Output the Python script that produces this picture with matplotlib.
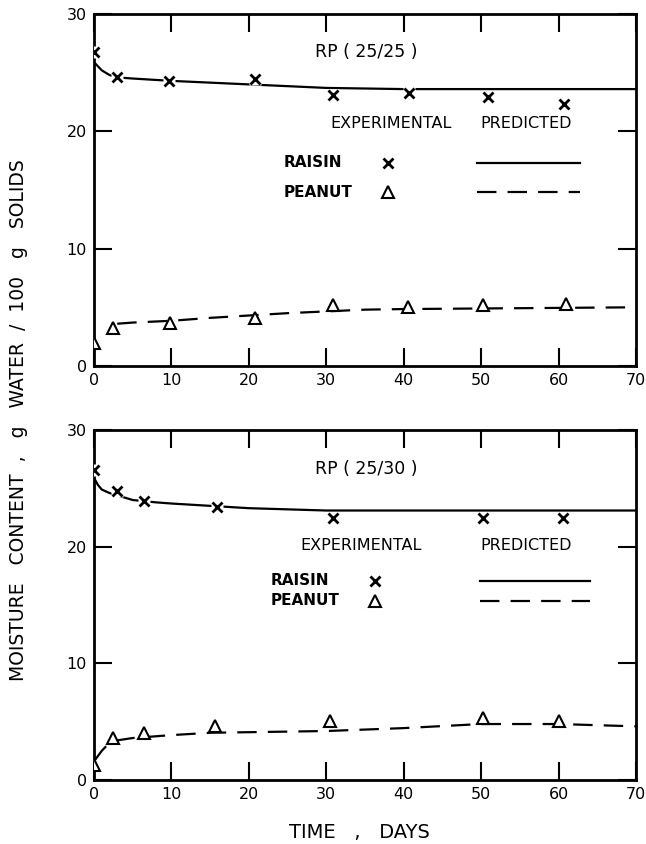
import matplotlib
matplotlib.use("Agg")
import matplotlib.pyplot as plt

plt.rcParams['font.family'] = ['DejaVu Sans']
plt.rcParams['lines.scale_dashes'] = False

# ---- RP (25/25) ----
exp_days_a = [0, 3.0, 9.7, 20.8, 30.9, 40.7, 50.9, 60.7]
raisin_a = [26.8, 24.6, 24.3, 24.5, 23.1, 23.3, 22.9, 22.3]
pea_days_a = [0, 2.5, 9.8, 20.8, 30.9, 40.6, 50.3, 61.0]
peanut_a = [1.95, 3.2, 3.7, 4.1, 5.2, 5.0, 5.2, 5.3]

pred_r_days_a = [0, 1, 2, 3, 5, 10, 20, 30, 40, 50, 60, 70]
pred_raisin_a = [25.9, 25.2, 24.8, 24.6, 24.5, 24.3, 24.0, 23.7, 23.6, 23.6, 23.6, 23.6]
pred_p_days_a = [3, 5, 10, 15, 20, 25, 30, 35, 40, 50, 60, 70]
pred_peanut_a = [3.6, 3.7, 3.85, 4.1, 4.3, 4.5, 4.65, 4.8, 4.85, 4.9, 4.95, 5.0]

# ---- RP (25/30) ----
exp_days_b = [0, 3.0, 6.5, 15.9, 30.9, 50.3, 60.6]
raisin_b = [26.6, 24.8, 23.9, 23.4, 22.5, 22.5, 22.5]
pea_days_b = [0, 2.5, 6.5, 15.6, 30.5, 50.3, 60.1]
peanut_b = [1.3, 3.6, 4.0, 4.6, 5.1, 5.3, 5.1]

pred_r_days_b = [0, 0.5, 1, 2, 3, 5, 8, 10, 15, 20, 30, 40, 50, 60, 70]
pred_raisin_b = [25.9, 25.3, 24.9, 24.6, 24.4, 24.0, 23.8, 23.7, 23.5, 23.3, 23.1, 23.1, 23.1, 23.1, 23.1]
pred_p_days_b = [0, 1, 2, 3, 5, 10, 15, 20, 30, 40, 50, 60, 70]
pred_peanut_b = [1.6, 2.5, 3.2, 3.4, 3.6, 3.85, 4.05, 4.1, 4.2, 4.45, 4.8, 4.8, 4.6]

x_ticks = [0, 10, 20, 30, 40, 50, 60, 70]
y_ticks = [0, 10, 20, 30]

DASH = (0, (14, 8))
LW = 1.6
TXT = 11.5

fig = plt.figure(figsize=(6.46, 8.44), dpi=100)
ax_a = fig.add_axes([0.1455, 0.5664, 0.839, 0.417])
ax_b = fig.add_axes([0.1455, 0.0758, 0.839, 0.4147])


def draw_panel(ax, title, ed, er, pd_, pv, prd, prv, ppd, ppv, lay):
    ax.plot(prd, prv, color='black', lw=LW, solid_capstyle='butt', zorder=2)
    ax.plot(ppd, ppv, color='black', lw=LW, linestyle=DASH, zorder=2)
    ax.plot(ed, er, linestyle='none', marker='s', ms=9, mfc='white', mec='none', zorder=3)
    ax.plot(ed, er, linestyle='none', marker='x', ms=7, mew=2.0, color='black', zorder=4)
    ax.plot(pd_, pv, linestyle='none', marker='^', ms=9, mew=1.5, mfc='white',
            mec='black', zorder=4)

    ax.set_xlim(0, 70)
    ax.set_ylim(0, 30)
    ax.set_xticks(x_ticks)
    ax.set_yticks(y_ticks)
    for s in ax.spines.values():
        s.set_linewidth(2.0)
    ax.tick_params(direction='in', top=True, right=True, length=13, width=1.5,
                   labelsize=11.5, pad=5)

    tr = ax.transAxes
    ax.text(0.503, lay['title_y'], title, transform=tr, ha='center', va='center',
            fontsize=12.5)
    ax.text(lay['exp_x'], lay['head_y'], 'EXPERIMENTAL', transform=tr,
            ha='center', va='center', fontsize=TXT)
    ax.text(0.798, lay['head_y'], 'PREDICTED', transform=tr,
            ha='center', va='center', fontsize=TXT)
    ax.text(lay['name_x'], lay['r_y'], 'RAISIN', transform=tr, ha='left',
            va='center', fontsize=TXT - 0.5, fontweight='bold')
    ax.text(lay['name_x'], lay['p_y'], 'PEANUT', transform=tr, ha='left',
            va='center', fontsize=TXT - 0.5, fontweight='bold')
    ax.plot([lay['mk_x']], [lay['r_y']], transform=tr, marker='x', ms=7, mew=2.0,
            color='black', linestyle='none')
    ax.plot([lay['mk_x']], [lay['p_y']], transform=tr, marker='^', ms=9, mew=1.5,
            mfc='white', mec='black', linestyle='none')
    ax.plot(lay['line_x'], [lay['r_y']] * 2, transform=tr, color='black', lw=LW)
    ax.plot(lay['line_x'], [lay['p_y']] * 2, transform=tr, color='black', lw=LW,
            linestyle=DASH)


draw_panel(ax_a, 'RP ( 25/25 )', exp_days_a, raisin_a, pea_days_a, peanut_a,
           pred_r_days_a, pred_raisin_a, pred_p_days_a, pred_peanut_a,
           dict(title_y=0.892, exp_x=0.548, head_y=0.690, name_x=0.349,
                r_y=0.578, p_y=0.493, mk_x=0.542, line_x=[0.707, 0.897]))
draw_panel(ax_b, 'RP ( 25/30 )', exp_days_b, raisin_b, pea_days_b, peanut_b,
           pred_r_days_b, pred_raisin_b, pred_p_days_b, pred_peanut_b,
           dict(title_y=0.889, exp_x=0.493, head_y=0.671, name_x=0.325,
                r_y=0.569, p_y=0.512, mk_x=0.518, line_x=[0.712, 0.915]))

fig.text(0.028, 0.502, 'MOISTURE   CONTENT  ,   g   WATER  /  100   g   SOLIDS',
         rotation=90, ha='center', va='center', fontsize=13.5)
fig.text(0.556, 0.014, 'TIME   ,   DAYS', ha='center', va='center', fontsize=14)

fig.savefig('out.png', dpi=100)
